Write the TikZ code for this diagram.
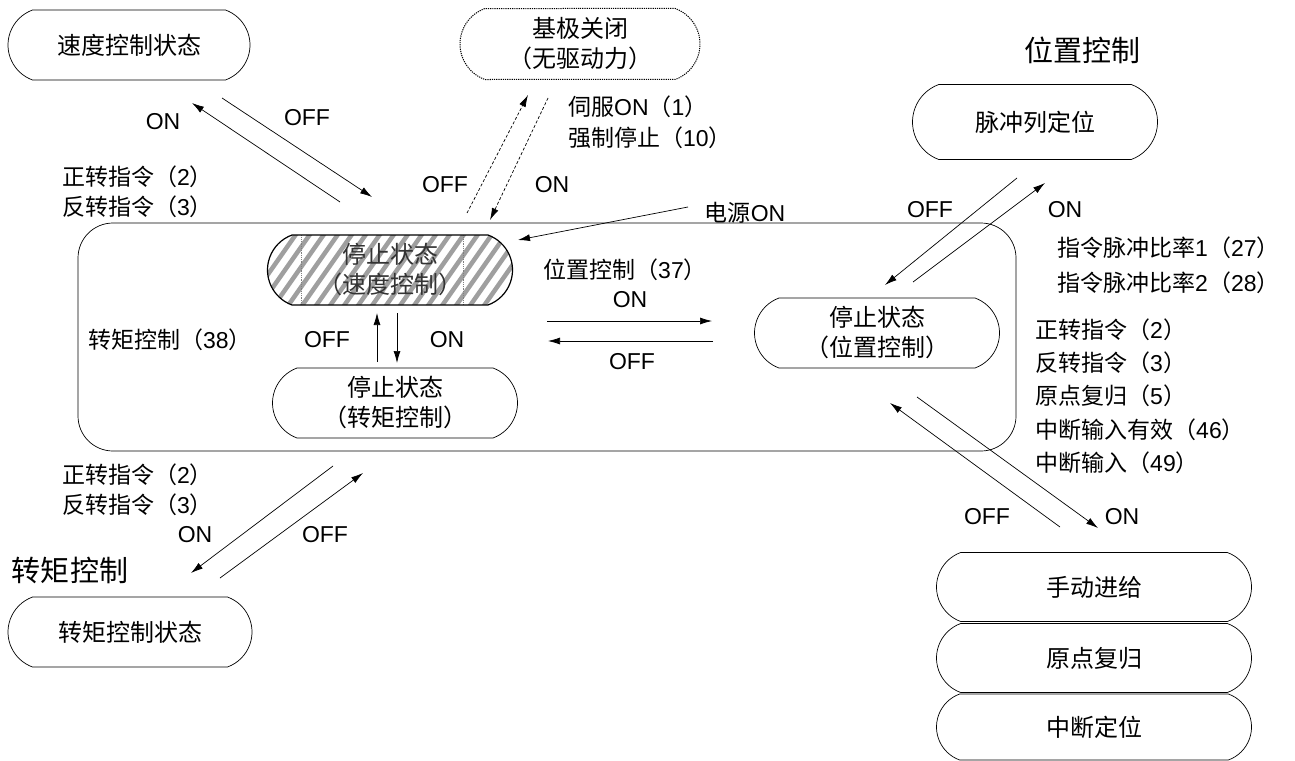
\documentclass[tikz,border=0pt]{standalone}
\usepackage{fontspec}
\setmainfont{Liberation Sans}
\newfontfamily\cjkf{Noto Sans CJK SC}
\usetikzlibrary{shapes.misc,arrows.meta,calc}
\newcommand\zh[1]{{\cjkf #1}}
\begin{document}
\begin{tikzpicture}[x=1pt,y=-1pt,
  state/.style={rounded rectangle, rounded rectangle arc length=140, draw, line width=0.7pt,
    minimum width=245pt, minimum height=70pt, inner sep=0pt,
    font=\fontsize{24}{30}\selectfont, align=center},
  lbl/.style={font=\fontsize{23}{30}\selectfont, inner sep=0pt},
  big/.style={font=\fontsize{29}{34}\selectfont, inner sep=0pt},
  arr/.style={-{Latex[length=12pt,width=7pt]}, line width=0.7pt},
  darr/.style={arr, dash pattern=on 3pt off 2pt}]
\useasboundingbox (0,0) rectangle (1295,760);

% container
\node[draw, rounded corners=35pt, minimum width=938pt, minimum height=228pt, line width=0.7pt] (main) at (547,337) {};

% top-left
\node[state, minimum width=242pt] (speed) at (129,45) {\zh{速度控制状态}};
\coordinate (tlA) at (340,202); \coordinate (tlB) at (192,103);
\coordinate (tlC) at (222,98);  \coordinate (tlD) at (372,197);
\draw[arr] (tlA) -- (tlB);
\draw[arr] (tlC) -- (tlD);
\node[lbl] (tlon) at (163,122) {ON};
\node[lbl] (tloff) at (307,118) {OFF};
\node[lbl, anchor=west] (tlf) at (62,177) {\zh{正转指令（}2\zh{）}};
\node[lbl, anchor=west] (tlr) at (62,207) {\zh{反转指令（}3\zh{）}};

% base block
\node[state, line width=1pt, dash pattern=on 1.2pt off 1pt, minimum width=240pt, minimum height=71pt] (bb) at (580,44) {\zh{基极关闭}\\\zh{（无驱动力）}};
\node[lbl, anchor=west] (svon) at (568,107) {\zh{伺服}ON\zh{（}1\zh{）}};
\node[lbl, anchor=west] (emg) at (568,138) {\zh{强制停止（}10\zh{）}};
\coordinate (bbA) at (467,213); \coordinate (bbB) at (528,95);
\coordinate (bbC) at (548,98);  \coordinate (bbD) at (490,220);
\draw[darr] (bbA) -- (bbB);
\draw[darr] (bbC) -- (bbD);
\node[lbl] (bboff) at (445,185) {OFF};
\node[lbl] (bbon) at (552,185) {ON};

% hatched stop state (speed)
\node[state, line width=1.2pt, text=black!80, path picture={
    \foreach \k in {-25,...,20}
      \draw[gray!75, line width=4.5pt] ($(path picture bounding box.center)+(\k*14pt,-50pt)$) -- ++(70pt,100pt);
    \draw[gray, densely dotted, line width=0.8pt] ($(path picture bounding box.center)+(-89pt,-40pt)$) -- ++(0pt,80pt);
    \draw[gray, densely dotted, line width=0.8pt] ($(path picture bounding box.center)+(73pt,-40pt)$) -- ++(0pt,80pt);
  }] (sspd) at (390,270) {\zh{停止状态}\\\zh{（速度控制）}};

% power on
\node[lbl] (pw) at (745,213) {\zh{电源}ON};
\coordinate (pwA) at (688,207); \coordinate (pwB) at (518,240);
\draw[arr] (pwA) -- (pwB);

% position control 37
\node[lbl] (p37) at (625,270) {\zh{位置控制（}37\zh{）}};
\coordinate (hA) at (547,321); \coordinate (hB) at (712,321);
\coordinate (hC) at (713,341); \coordinate (hD) at (548,341);
\draw[arr] (hA) -- (hB);
\draw[arr] (hC) -- (hD);
\node[lbl] (hon) at (630,300) {ON};
\node[lbl] (hoff) at (632,362) {OFF};

\node[state] (spos) at (877,333) {\zh{停止状态}\\\zh{（位置控制）}};

% torque inside
\node[lbl, anchor=west] (t38) at (88,340) {\zh{转矩控制（}38\zh{）}};
\node[state] (strq) at (395,403) {\zh{停止状态}\\\zh{（转矩控制）}};
\coordinate (vA) at (377,362); \coordinate (vB) at (377,313);
\coordinate (vC) at (397,313); \coordinate (vD) at (397,363);
\draw[arr] (vA) -- (vB);
\draw[arr] (vC) -- (vD);
\node[lbl] (voff) at (327,340) {OFF};
\node[lbl] (von) at (447,340) {ON};

% top right
\node[big] (posctl) at (1082,50) {\zh{位置控制}};
\node[state, minimum height=75pt] (pulse) at (1035,122) {\zh{脉冲列定位}};
\coordinate (trA) at (1017,178); \coordinate (trB) at (885,285);
\coordinate (trC) at (913,282);  \coordinate (trD) at (1045,183);
\draw[arr] (trA) -- (trB);
\draw[arr] (trC) -- (trD);
\node[lbl] (troff) at (930,210) {OFF};
\node[lbl] (tron) at (1065,210) {ON};
\node[lbl, anchor=west] (r27) at (1057,248) {\zh{指令脉冲比率}1\zh{（}27\zh{）}};
\node[lbl, anchor=west] (r28) at (1057,283) {\zh{指令脉冲比率}2\zh{（}28\zh{）}};

% right list
\node[lbl, anchor=west] (rf) at (1035,330) {\zh{正转指令（}2\zh{）}};
\node[lbl, anchor=west] (rr) at (1035,363) {\zh{反转指令（}3\zh{）}};
\node[lbl, anchor=west] (rh) at (1035,396) {\zh{原点复归（}5\zh{）}};
\node[lbl, anchor=west] (ri) at (1035,430) {\zh{中断输入有效（}46\zh{）}};
\node[lbl, anchor=west] (rj) at (1035,463) {\zh{中断输入（}49\zh{）}};

% bottom right
\coordinate (brA) at (1060,527); \coordinate (brB) at (890,403);
\coordinate (brC) at (917,397);  \coordinate (brD) at (1098,528);
\draw[arr] (brA) -- (brB);
\draw[arr] (brC) -- (brD);
\node[lbl] (broff) at (987,517) {OFF};
\node[lbl] (bron) at (1122,517) {ON};
\node[state, minimum width=315pt, minimum height=69pt] (jog) at (1094,587) {\zh{手动进给}};
\node[state, minimum width=315pt, minimum height=69pt] (home) at (1094,658) {\zh{原点复归}};
\node[state, minimum width=315pt, minimum height=66pt] (intr) at (1094,727) {\zh{中断定位}};

% bottom left
\node[lbl, anchor=west] (blf) at (62,475) {\zh{正转指令（}2\zh{）}};
\node[lbl, anchor=west] (blr) at (62,505) {\zh{反转指令（}3\zh{）}};
\node[lbl] (blon) at (195,535) {ON};
\node[lbl] (bloff) at (325,535) {OFF};
\node[big] (trqctl) at (70,570) {\zh{转矩控制}};
\coordinate (blA) at (333,466); \coordinate (blB) at (191,573);
\coordinate (blC) at (220,578); \coordinate (blD) at (363,473);
\draw[arr] (blA) -- (blB);
\draw[arr] (blC) -- (blD);
\node[state, minimum width=244pt] (trqst) at (130,632) {\zh{转矩控制状态}};
\end{tikzpicture}
\end{document}
